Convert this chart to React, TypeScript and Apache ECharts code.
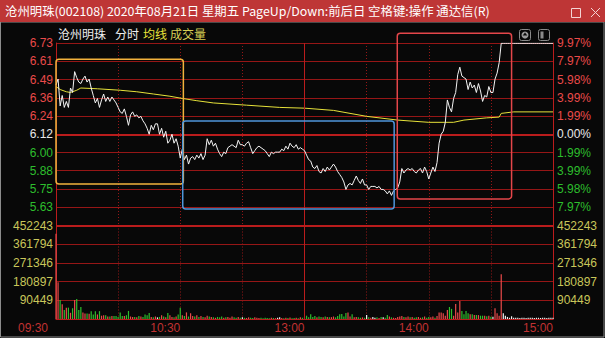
import React, { useEffect, useRef } from 'react';
import * as echarts from 'echarts';

// ---------- data ----------
const prevClose = 6.12;
// left tick labels, top to bottom (6.73 ... 5.63)
const priceTickLabels = ['6.73', '6.61', '6.49', '6.36', '6.24', '6.12', '6.00', '5.88', '5.75', '5.63'];
// right tick labels, top to bottom
const pctTickLabels = ['9.97%', '7.97%', '5.98%', '3.99%', '1.99%', '0.00%', '1.99%', '3.99%', '5.98%', '7.97%'];
// volume tick labels, top to bottom
const volTickLabels = ['452243', '361794', '271346', '180897', '90449'];
const timeTickLabels = ['09:30', '', '10:30', '', '13:00', '', '14:00', '', '15:00'];

const prices = [
  6.45, 6.49, 6.31, 6.38, 6.30, 6.34, 6.30, 6.43, 6.40, 6.54,
  6.50, 6.47, 6.46, 6.49, 6.51, 6.47, 6.49, 6.43, 6.38, 6.33,
  6.36, 6.30, 6.35, 6.39, 6.34, 6.37, 6.34, 6.37, 6.35, 6.33,
  6.30, 6.27, 6.26, 6.29, 6.24, 6.18, 6.25, 6.27, 6.24, 6.25,
  6.23, 6.24, 6.21, 6.19, 6.16, 6.12, 6.18, 6.15, 6.19, 6.19,
  6.12, 6.16, 6.10, 6.14, 6.06, 6.08, 6.12, 6.06, 6.09, 6.04,
  5.96, 6.02, 5.95, 5.98, 5.92, 5.96, 5.97, 5.95, 5.98, 5.96,
  5.99, 5.95, 5.98, 6.09, 6.05, 6.08, 6.04, 6.06, 6.02, 5.99,
  5.97, 6.00, 5.99, 6.03, 6.04, 6.05, 6.04, 6.03, 6.08, 6.05,
  6.05, 6.04, 6.06, 6.07, 6.03, 5.99, 6.01, 6.03, 6.04, 6.03,
  6.02, 6.01, 5.99, 5.97, 6.00, 5.99, 6.00, 6.00, 6.00, 6.02,
  6.01, 6.04, 6.02, 6.06, 6.04, 6.03, 6.05, 6.02, 6.03, 6.02,
  6.01, 5.98, 5.95, 5.94, 5.90, 5.89, 5.91, 5.87, 5.86, 5.89,
  5.87, 5.90, 5.88, 5.90, 5.92, 5.90, 5.87, 5.85, 5.83, 5.80,
  5.75, 5.78, 5.79, 5.78, 5.81, 5.84, 5.81, 5.79, 5.82, 5.78,
  5.78, 5.75, 5.77, 5.77, 5.77, 5.76, 5.77, 5.75, 5.75, 5.74,
  5.72, 5.74, 5.71, 5.74, 5.75, 5.76, 5.80, 5.89, 5.86, 5.88,
  5.89, 5.88, 5.89, 5.87, 5.86, 5.88, 5.89, 5.86, 5.90, 5.87,
  5.82, 5.86, 5.90, 5.87, 5.93, 6.06, 6.12, 6.14, 6.20, 6.35,
  6.30, 6.27, 6.36, 6.40, 6.52, 6.57, 6.51, 6.50, 6.49, 6.42,
  6.47, 6.43, 6.45, 6.40, 6.46, 6.41, 6.34, 6.38, 6.37, 6.44,
  6.40, 6.40, 6.49, 6.53, 6.60, 6.73, 6.73, 6.73, 6.73, 6.73,
  6.73, 6.73, 6.73, 6.73, 6.73, 6.73, 6.73, 6.73, 6.73, 6.73,
  6.73, 6.73, 6.73, 6.73, 6.73, 6.73, 6.73, 6.73, 6.73, 6.73, 6.73,
];

const volumes = [
  412000, 178000, 92000, 71000, 44000, 55000, 55000, 30000, 52000, 92000,
  97000, 44000, 58000, 32000, 27000, 27000, 25000, 38000, 22000, 37000,
  22000, 38000, 16000, 18000, 18000, 12000, 12000, 14000, 14000, 14000,
  10000, 31000, 14000, 14000, 18000, 39000, 12000, 10000, 10000, 8000,
  14000, 12000, 10000, 22000, 18000, 29000, 10000, 8000, 12000, 8000,
  10000, 18000, 12000, 8000, 29000, 18000, 10000, 8000, 12000, 22000,
  55000, 18000, 14000, 32000, 12000, 28000, 14000, 12000, 18000, 10000,
  14000, 10000, 8000, 16000, 12000, 10000, 8000, 6000, 10000, 8000,
  12000, 6000, 8000, 10000, 6000, 12000, 8000, 6000, 10000, 6000,
  8000, 6000, 5000, 8000, 6000, 5000, 8000, 6000, 5000, 6000,
  4000, 6000, 5000, 4000, 6000, 5000, 4000, 6000, 8000, 5000,
  4000, 6000, 5000, 7000, 4000, 5000, 6000, 4000, 8000, 6000,
  11000, 16000, 8000, 23000, 10000, 14000, 8000, 12000, 10000, 8000,
  12000, 10000, 8000, 9000, 12000, 8000, 14000, 23000, 24000, 12000,
  29000, 32000, 12000, 23000, 8000, 10000, 8000, 6000, 8000, 6000,
  19000, 8000, 6000, 10000, 6000, 8000, 5000, 10000, 8000, 6000,
  19000, 12000, 8000, 6000, 5000, 10000, 12000, 14000, 10000, 8000,
  12000, 8000, 10000, 6000, 8000, 10000, 6000, 8000, 12000, 6000,
  10000, 8000, 12000, 6000, 14000, 32000, 32000, 28000, 16000, 44000,
  58000, 49000, 16000, 73000, 32000, 87000, 39000, 23000, 39000, 28000,
  23000, 23000, 19000, 19000, 19000, 16000, 16000, 16000, 13000, 16000,
  11000, 11000, 52000, 28000, 16000, 217000, 28000, 16000, 10000, 6000,
  13000, 6000, 6000, 6000, 5000, 6000, 6000, 5000, 6000, 6000,
  6000, 5000, 6000, 6000, 5000, 6000, 6000, 5000, 6000, 6000, 6000,
];

// average price line (minute index, price)
const avgMinutes = [0, 2, 5, 7, 10, 12, 20, 31, 39, 47, 55, 61, 68, 76, 92, 108, 120, 134, 150, 165, 180, 192, 197, 208, 214, 215, 221, 240];
const avgPrices = [6.44, 6.42, 6.405, 6.40, 6.415, 6.43, 6.425, 6.415, 6.405, 6.39, 6.375, 6.36, 6.345, 6.33, 6.315, 6.30, 6.295, 6.28, 6.24, 6.215, 6.20, 6.20, 6.215, 6.23, 6.235, 6.26, 6.27, 6.27];

// annotation boxes in data units (minute range, price range)
const boxMinutes = [[0, 61.5], [61.2, 163.3], [164.8, 220.0]];
const boxPrices = [[6.623, 5.786], [6.209, 5.619], [6.797, 5.686]];
const boxColors = ['#F2B23C', '#4F95DA', '#E4464A'];

// ---------- styling ----------
const PRICE_MIN = 5.508;
const PRICE_MAX = 6.732;
const PRICE_STEP = 0.1224;
const VOL_STEP = 90449;
const VOL_MAX = VOL_STEP * 5;
const GRID = '#951616';
const GRID_STRONG = '#BA1C1C';
const RED = '#EA4A4A';
const GREEN = '#2DBE2D';
const WHITE = '#E8E8E8';
const VOL_LABEL = '#C9C65A';
const FONT = 'Liberation Sans';
const CJK = 'Noto Sans CJK SC';

const richColors = {
  up: { color: RED, fontSize: 12, fontFamily: FONT },
  dn: { color: GREEN, fontSize: 12, fontFamily: FONT },
  eq: { color: WHITE, fontSize: 12, fontFamily: FONT },
};

export default function App() {
  const ref = useRef<HTMLDivElement>(null);
  useEffect(() => {
    if (!ref.current) return;
    const chart = echarts.init(ref.current, null, { renderer: 'svg' });

    const barData = volumes.map((v, i) => {
      const prev = i === 0 ? prevClose : prices[i - 1];
      const c = prices[i] > prev ? RED : prices[i] < prev ? GREEN : '#F2F2F2';
      return { value: [i, v], itemStyle: { color: c } };
    });

    const option: any = {
      animation: false,
      backgroundColor: '#080808',
      grid: [
        { left: 56, right: 52, top: 43, height: 182.5 },
        { left: 56, right: 52, top: 225.5, height: 93.5 },
      ],
      xAxis: [
        {
          type: 'value', gridIndex: 0, min: 0, max: 240, interval: 30,
          axisLine: { show: false }, axisTick: { show: false }, axisLabel: { show: false },
          splitLine: { show: true, lineStyle: { color: GRID, type: [1, 2], width: 1 } },
        },
        {
          type: 'value', gridIndex: 1, min: 0, max: 240, interval: 30,
          axisLine: { show: true, lineStyle: { color: GRID_STRONG, width: 1 } },
          axisTick: { show: false },
          splitLine: { show: true, lineStyle: { color: GRID, type: [1, 2], width: 1 } },
          axisLabel: {
            show: true, align: 'right', margin: 3, color: '#C03232', fontSize: 12, fontFamily: FONT,
            formatter: (v: number) => {
              const i = Math.round(v / 30);
              const t = timeTickLabels[i] || '';
              if (!t) return '';
              return i === 0 ? `{first|${t}}` : t;
            },
            rich: { first: { padding: [0, 8, 0, 0], color: '#C03232', fontSize: 12, fontFamily: FONT } },
          },
        },
      ],
      yAxis: [
        {
          type: 'value', gridIndex: 0, position: 'left', min: PRICE_MIN, max: PRICE_MAX, interval: PRICE_STEP,
          axisLine: { show: true, lineStyle: { color: GRID_STRONG } }, axisTick: { show: false },
          splitLine: { show: true, lineStyle: { color: GRID, width: 1 } },
          axisLabel: {
            margin: 3, rich: richColors,
            formatter: (v: number) => {
              const i = Math.round((v - PRICE_MIN) / PRICE_STEP);
              const t = priceTickLabels[10 - i];
              if (!t || i === 0) return '';
              const k = i > 5 ? 'up' : i < 5 ? 'dn' : 'eq';
              return `{${k}|${t}}`;
            },
          },
        },
        {
          type: 'value', gridIndex: 0, position: 'right', min: -10, max: 10, interval: 2,
          axisLine: { show: true, lineStyle: { color: GRID_STRONG } }, axisTick: { show: false },
          splitLine: { show: false },
          axisLabel: {
            margin: 4, rich: richColors,
            formatter: (v: number) => {
              const i = Math.round((v + 10) / 2);
              const t = pctTickLabels[10 - i];
              if (!t || i === 0) return '';
              const k = i > 5 ? 'up' : i < 5 ? 'dn' : 'eq';
              return `{${k}|${t}}`;
            },
          },
        },
        {
          type: 'value', gridIndex: 1, position: 'left', min: 0, max: VOL_MAX, interval: VOL_STEP,
          axisLine: { show: true, lineStyle: { color: GRID_STRONG } }, axisTick: { show: false },
          splitLine: { show: true, lineStyle: { color: GRID, width: 1 } },
          axisLabel: {
            margin: 3, color: VOL_LABEL, fontSize: 12, fontFamily: FONT,
            formatter: (v: number) => {
              const i = Math.round(v / VOL_STEP);
              return i === 0 ? '' : volTickLabels[5 - i] || '';
            },
          },
        },
        {
          type: 'value', gridIndex: 1, position: 'right', min: 0, max: VOL_MAX, interval: VOL_STEP,
          axisLine: { show: true, lineStyle: { color: GRID_STRONG } }, axisTick: { show: false },
          splitLine: { show: false },
          axisLabel: {
            margin: 4, color: VOL_LABEL, fontSize: 12, fontFamily: FONT,
            formatter: (v: number) => {
              const i = Math.round(v / VOL_STEP);
              return i === 0 ? '' : volTickLabels[5 - i] || '';
            },
          },
        },
      ],
      series: [
        {
          type: 'line', xAxisIndex: 0, yAxisIndex: 0, showSymbol: false, silent: true,
          data: prices.map((p, i) => [i, p]),
          lineStyle: { color: '#F4F4F4', width: 1 },
          markLine: {
            silent: true, symbol: ['none', 'none'], label: { show: false },
            data: [
              { yAxis: prevClose, lineStyle: { color: GRID_STRONG, width: 2, type: 'solid' } },
              { xAxis: 120, lineStyle: { color: GRID_STRONG, width: 1, type: 'solid' } },
            ],
          },
          z: 5,
        },
        {
          type: 'line', xAxisIndex: 0, yAxisIndex: 0, showSymbol: false, silent: true,
          data: avgMinutes.map((m, i) => [m, avgPrices[i]]),
          lineStyle: { color: '#E6E23A', width: 1 },
          z: 4,
        },
        {
          type: 'bar', xAxisIndex: 1, yAxisIndex: 2, silent: true, barWidth: 1.2,
          data: barData,
          markLine: {
            silent: true, symbol: ['none', 'none'], label: { show: false },
            data: [
              { yAxis: VOL_MAX, lineStyle: { color: GRID_STRONG, width: 2, type: 'solid' } },
              { xAxis: 120, lineStyle: { color: GRID_STRONG, width: 1, type: 'solid' } },
            ],
          },
        },
      ],
    };
    chart.setOption(option);

    const boxes = boxMinutes.map((mr, i) => {
      const a = chart.convertToPixel({ xAxisIndex: 0, yAxisIndex: 0 } as any, [mr[0], boxPrices[i][0]]) as number[];
      const b = chart.convertToPixel({ xAxisIndex: 0, yAxisIndex: 0 } as any, [mr[1], boxPrices[i][1]]) as number[];
      return {
        type: 'rect', z: 20, silent: true,
        shape: { x: a[0], y: a[1], width: b[0] - a[0], height: b[1] - a[1], r: 3 },
        style: { fill: 'none', stroke: boxColors[i], lineWidth: 1.5 },
      };
    });

    const graphic: any[] = [
      { type: 'rect', z: 1, silent: true, shape: { x: 0.5, y: 22, width: 603.5, height: 315 }, style: { fill: 'none', stroke: '#8c8c8c', lineWidth: 1 } },
      { type: 'rect', z: 30, silent: true, shape: { x: 0, y: 0, width: 605, height: 22 }, style: { fill: '#BE3636' } },
      {
        type: 'text', z: 31, silent: true, x: 5, y: 11,
        style: { text: '沧州明珠(002108) 2020年08月21日 星期五 PageUp/Down:前后日 空格键:操作 通达信(R)', fill: '#FFFFFF', font: `12.4px "${CJK}"`, verticalAlign: 'middle' },
      },
      { type: 'rect', z: 31, silent: true, shape: { x: 571.5, y: 8.5, width: 9, height: 9 }, style: { fill: 'none', stroke: '#F3D4D4', lineWidth: 1 } },
      { type: 'line', z: 31, silent: true, shape: { x1: 591, y1: 8, x2: 600, y2: 17 }, style: { stroke: '#F3D4D4', lineWidth: 1 } },
      { type: 'line', z: 31, silent: true, shape: { x1: 600, y1: 8, x2: 591, y2: 17 }, style: { stroke: '#F3D4D4', lineWidth: 1 } },
      { type: 'text', z: 31, silent: true, x: 58, y: 33, style: { text: '沧州明珠', fill: '#EDEDED', font: `12px "${CJK}"`, verticalAlign: 'middle' } },
      { type: 'text', z: 31, silent: true, x: 115, y: 33, style: { text: '分时', fill: '#EDEDED', font: `12px "${CJK}"`, verticalAlign: 'middle' } },
      { type: 'text', z: 31, silent: true, x: 143, y: 33, style: { text: '均线', fill: '#E8E43A', font: `12px "${CJK}"`, verticalAlign: 'middle' } },
      { type: 'text', z: 31, silent: true, x: 170, y: 33, style: { text: '成交量', fill: '#D6CF55', font: `12px "${CJK}"`, verticalAlign: 'middle' } },
      { type: 'rect', z: 31, silent: true, shape: { x: 519.5, y: 29.5, width: 11, height: 11, r: 2 }, style: { fill: 'none', stroke: '#8a8a8a', lineWidth: 1 } },
      { type: 'circle', z: 31, silent: true, shape: { cx: 525, cy: 35, r: 3.5 }, style: { fill: '#9a9a9a' } },
      { type: 'polygon', z: 32, silent: true, shape: { points: [[525, 32.5], [527.3, 35.5], [522.7, 35.5]] }, style: { fill: '#080808' } },
      { type: 'rect', z: 31, silent: true, shape: { x: 538.5, y: 29.5, width: 11, height: 11, r: 2 }, style: { fill: 'none', stroke: '#8a8a8a', lineWidth: 1 } },
      { type: 'rect', z: 31, silent: true, shape: { x: 540.5, y: 31.5, width: 3, height: 7 }, style: { fill: '#8a8a8a' } },
      ...boxes,
    ];
    chart.setOption({ graphic });

    return () => chart.dispose();
  }, []);
  return <div ref={ref} style={{ position: 'absolute', left: 0, top: 0, width: 605, height: 338 }} />;
}
